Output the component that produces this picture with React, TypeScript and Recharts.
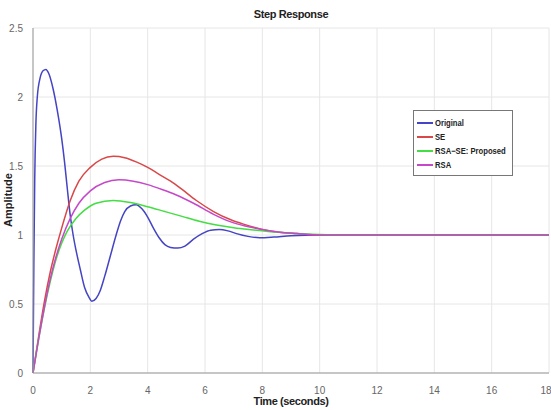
import React from "react";
import { LineChart, Line, XAxis, YAxis, CartesianGrid } from "recharts";

// time samples (seconds) and amplitudes
const origT = [0, 0.03, 0.06, 0.1, 0.15, 0.25, 0.35, 0.45, 0.55, 0.7, 0.85, 1.0, 1.1, 1.2, 1.3, 1.4, 1.5, 1.65, 1.8, 1.95, 2.05, 2.2, 2.35, 2.5, 2.7, 2.9, 3.05, 3.2, 3.4, 3.6, 3.8, 4.0, 4.2, 4.4, 4.6, 4.8, 5.05, 5.3, 5.6, 5.9, 6.2, 6.5, 6.8, 7.1, 7.5, 7.9, 8.4, 9, 10, 12, 18];
const origV = [0, 0.8, 1.4, 1.8, 2.0, 2.14, 2.19, 2.2, 2.17, 2.06, 1.9, 1.7, 1.53, 1.33, 1.14, 1.0, 0.89, 0.75, 0.62, 0.55, 0.52, 0.54, 0.6, 0.7, 0.85, 1.0, 1.1, 1.17, 1.21, 1.22, 1.19, 1.13, 1.05, 0.98, 0.93, 0.91, 0.905, 0.92, 0.97, 1.01, 1.035, 1.04, 1.03, 1.01, 0.99, 0.98, 0.985, 0.995, 1.0, 1.0, 1.0];

const seT = [0, 0.2, 0.4, 0.6, 0.8, 1.0, 1.3, 1.6, 2.0, 2.4, 2.8, 3.2, 3.6, 4.0, 4.4, 4.8, 5.2, 5.7, 6.3, 6.9, 7.4, 8, 8.6, 9.2, 10, 11, 18];
const seV = [0, 0.27, 0.52, 0.73, 0.9, 1.05, 1.25, 1.39, 1.49, 1.55, 1.57, 1.56, 1.53, 1.49, 1.44, 1.39, 1.33, 1.25, 1.17, 1.11, 1.075, 1.04, 1.02, 1.01, 1.0, 1.0, 1.0];

const proposedT = [0, 0.2, 0.4, 0.6, 0.8, 1.0, 1.2, 1.5, 1.8, 2.2, 2.8, 3.4, 4.0, 4.6, 5.2, 5.8, 6.4, 7.0, 7.6, 8.2, 9, 10, 11, 18];
const proposedV = [0, 0.25, 0.47, 0.66, 0.82, 0.94, 1.03, 1.12, 1.18, 1.23, 1.25, 1.235, 1.205, 1.17, 1.135, 1.1, 1.073, 1.053, 1.038, 1.025, 1.013, 1.004, 1.0, 1.0];

const rsaT = [0, 0.2, 0.4, 0.6, 0.8, 1.0, 1.3, 1.6, 2.0, 2.5, 3.0, 3.5, 4.0, 4.5, 5.0, 5.6, 6.3, 6.9, 7.4, 8, 8.6, 9.2, 10, 18];
const rsaV = [0, 0.25, 0.48, 0.68, 0.84, 0.97, 1.12, 1.23, 1.32, 1.38, 1.4, 1.39, 1.365, 1.33, 1.29, 1.23, 1.15, 1.095, 1.065, 1.04, 1.02, 1.01, 1.0, 1.0];

const xTicks = [0, 2, 4, 6, 8, 10, 12, 14, 16, 18];
const yTicks = [0, 0.5, 1, 1.5, 2, 2.5];

const series = [
  { name: "Original", t: origT, v: origV, color: "#4444c4" },
  { name: "SE", t: seT, v: seV, color: "#d84848" },
  { name: "RSA\u2212SE: Proposed", t: proposedT, v: proposedV, color: "#44dd44" },
  { name: "RSA", t: rsaT, v: rsaV, color: "#c448c8" },
];

const toPoints = (t: number[], v: number[]) => t.map((x, i) => ({ t: x, v: v[i] }));

const font = "'Liberation Sans', Arial, sans-serif";
const tickStyle = { fontSize: 10, fill: "#666", fontFamily: font };

export default function App() {
  return (
    <div style={{ position: "absolute", left: 0, top: 0, width: 551, height: 410, background: "#fff", fontFamily: font }}>
      <LineChart width={551} height={410} margin={{ top: 28, right: 2, left: 0, bottom: 0 }}>
        <CartesianGrid stroke="#e6e6e6" vertical horizontal />
        <XAxis
          type="number"
          dataKey="t"
          domain={[0, 18]}
          ticks={xTicks}
          height={37}
          tickLine={false}
          tickMargin={8}
          stroke="#999"
          tick={tickStyle}
          allowDuplicatedCategory={false}
        />
        <XAxis xAxisId="top" orientation="top" type="number" domain={[0, 18]} ticks={xTicks} height={0} tick={false} tickLine={false} stroke="#999" />
        <YAxis
          type="number"
          domain={[0, 2.5]}
          ticks={yTicks}
          width={33}
          tickLine={false}
          tickMargin={4}
          stroke="#999"
          tick={tickStyle}
        />
        <YAxis yAxisId="right" orientation="right" domain={[0, 2.5]} width={0} tick={false} tickLine={false} stroke="#999" />
        {series.map((s) => (
          <Line
            key={s.name}
            data={toPoints(s.t, s.v)}
            dataKey="v"
            name={s.name}
            type="monotone"
            stroke={s.color}
            strokeWidth={1.5}
            dot={false}
            isAnimationActive={false}
          />
        ))}
      </LineChart>

      <div style={{ position: "absolute", left: 0, width: 582, top: 8, textAlign: "center", fontSize: 11, fontWeight: "bold", color: "#222", letterSpacing: -0.4 }}>
        Step Response
      </div>
      <div style={{ position: "absolute", left: 0, width: 582, top: 395, textAlign: "center", fontSize: 11, fontWeight: "bold", color: "#222", letterSpacing: -0.4 }}>
        Time (seconds)
      </div>
      <div
        style={{
          position: "absolute",
          left: 8,
          top: 200,
          transform: "translate(-50%, -50%) rotate(-90deg)",
          fontSize: 11,
          fontWeight: "bold",
          color: "#222",
          whiteSpace: "nowrap",
        }}
      >
        Amplitude
      </div>

      <div
        style={{
          position: "absolute",
          left: 413,
          top: 110,
          width: 100,
          height: 66,
          border: "1px solid #777",
          background: "#fff",
          boxSizing: "border-box",
          padding: "5px 0 0 3px",
        }}
      >
        {series.map((s) => (
          <div key={s.name} style={{ display: "flex", alignItems: "center", height: 14, fontSize: 9, fontWeight: "bold", color: "#222", whiteSpace: "nowrap" }}>
            <div style={{ width: 16, height: 1.5, background: s.color, marginRight: 2, flex: "none" }} />
            <span style={{ display: "inline-block", transform: "scaleX(0.85)", transformOrigin: "left center" }}>{s.name}</span>
          </div>
        ))}
      </div>
    </div>
  );
}
